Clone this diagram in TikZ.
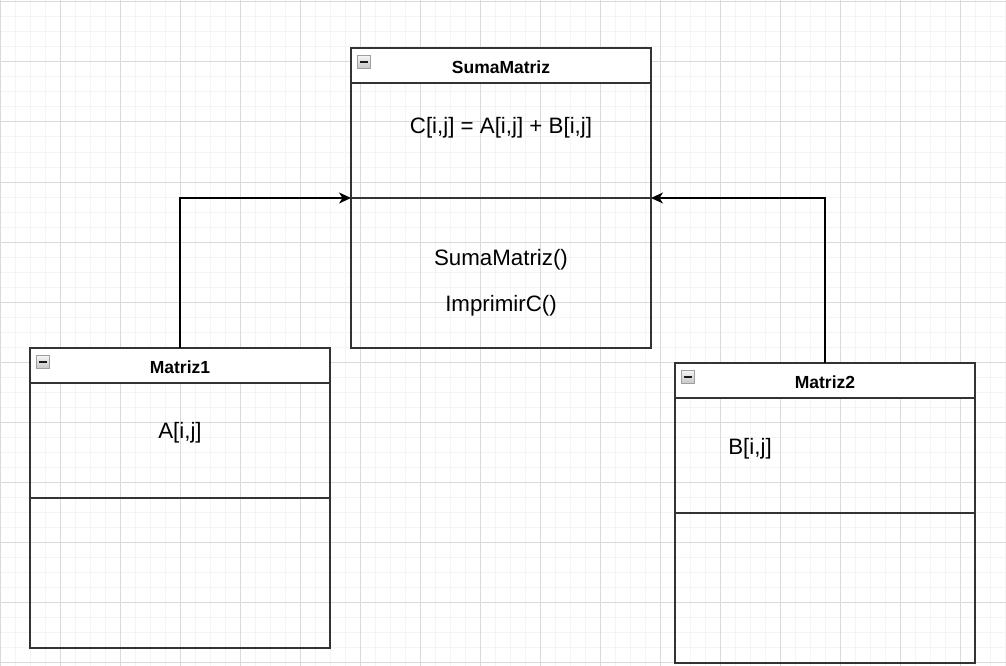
\documentclass[tikz,border=0pt]{standalone}
\usepackage{fontspec}
\setmainfont{Liberation Sans}
\usepackage{xcolor}
\usepackage{tikz}
\usetikzlibrary{calc, positioning, arrows, arrows.meta}
\pgfdeclarelayer{background}
\pgfsetlayers{background,main}
\definecolor{gridminor}{HTML}{F4F4F4}
\definecolor{gridmajor}{HTML}{DADADA}
\definecolor{umlline}{HTML}{333333}
\tikzstyle{classhead} = [rectangle, minimum width=300pt, minimum height=35pt, inner sep=0pt, outer sep=0pt, text height=15.6pt, text depth=0pt, draw=umlline, line width=1.6pt, fill=white, font=\bfseries\fontsize{17.5}{20}\selectfont]
\tikzstyle{classpart} = [rectangle, minimum width=300pt, inner sep=0pt, outer sep=0pt, draw=umlline, line width=1.6pt]
\tikzstyle{member}    = [anchor=base, inner sep=0pt, font=\fontsize{22.3}{26}\selectfont]
\tikzstyle{foldbox}   = [rectangle, minimum size=13pt, inner sep=0pt, draw=gray!75, top color=gray!8, bottom color=gray!45, line width=1pt, path picture={\draw[line width=2pt, black!90] ([xshift=2.5pt]path picture bounding box.west) -- ([xshift=-2.5pt]path picture bounding box.east);}]
\tikzstyle{arrow}     = [line width=1.5pt, ->, >={Stealth[length=12pt, width=11pt, inset=3.5pt]}]

\begin{document}
\begin{tikzpicture}[x=1pt, y=-1pt]
    \useasboundingbox (0,0) rectangle (1006,666);

    % classes
    \node (sumaHead) [classhead, anchor=north west] at (351,48) {SumaMatriz};
    \node (sumaAttr) [classpart, minimum height=115pt, below=0pt of sumaHead] {};
    \node (sumaOps)  [classpart, minimum height=150pt, below=0pt of sumaAttr] {};

    \node (m1Head) [classhead, anchor=north west] at (30,348) {Matriz1};
    \node (m1Attr) [classpart, minimum height=115pt, below=0pt of m1Head] {};
    \node (m1Ops)  [classpart, minimum height=150pt, below=0pt of m1Attr] {};

    \node (m2Head) [classhead, anchor=north west] at (675,363) {Matriz2};
    \node (m2Attr) [classpart, minimum height=115pt, below=0pt of m2Head] {};
    \node (m2Ops)  [classpart, minimum height=150pt, below=0pt of m2Attr] {};

    \node (sumaFold) [foldbox, anchor=north west] at ([shift={(6,7)}]sumaHead.north west) {};
    \node (m1Fold)   [foldbox, anchor=north west] at ([shift={(6,7)}]m1Head.north west) {};
    \node (m2Fold)   [foldbox, anchor=north west] at ([shift={(6,7)}]m2Head.north west) {};

    % members
    \node (sumaC)     [member] at (501,134)   {C[i,j] = A[i,j] + B[i,j]};
    \node (sumaFn)    [member] at (501,265)   {SumaMatriz()};
    \node (sumaPrint) [member] at (501,311.7) {ImprimirC()};
    \node (m1A)       [member] at (180,438)   {A[i,j]};
    \node (m2B)       [member] at (750,454)   {B[i,j]};

    % arrows
    \draw [arrow] (m1Head.north) |- (sumaAttr.south west);
    \draw [arrow] (m2Head.north) |- (sumaAttr.south east);

    \begin{pgfonlayer}{background}
      \foreach \gx in {0,15,...,1005} \draw [gridminor, line width=1pt] (\gx,0) -- (\gx,666);
      \foreach \gy in {2,17,...,665} \draw [gridminor, line width=1pt] (0,\gy) -- (1006,\gy);
      \foreach \gx in {0,60,...,1005} \draw [gridmajor, line width=1pt] (\gx,0) -- (\gx,666);
      \foreach \gy in {2,62,...,665} \draw [gridmajor, line width=1pt] (0,\gy) -- (1006,\gy);
    \end{pgfonlayer}

\end{tikzpicture}
\end{document}
